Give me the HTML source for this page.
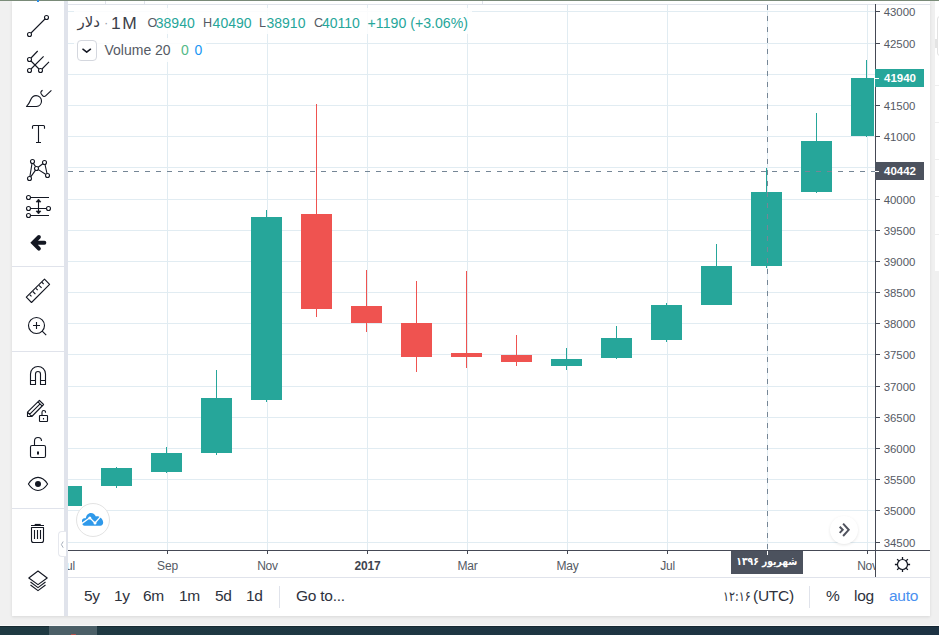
<!DOCTYPE html>
<html lang="en"><head><meta charset="utf-8"><title>Chart</title>
<style>
html,body{margin:0;padding:0}
body{width:939px;height:635px;overflow:hidden;background:#f0f0f0;position:relative;font-family:"Liberation Sans","DejaVu Sans",sans-serif;color:#555a64}
div{position:absolute;box-sizing:border-box}
.topstripe{left:0;top:0;width:939px;height:1px;background:#7b8d7a}
.panel{left:12px;top:1px;width:918px;height:615px;background:#fff;box-shadow:0 1px 3px rgba(0,0,0,.10)}
.tbsep{left:64px;top:1px;width:4px;height:615px;background:#e0e3eb}
.hsep{left:12px;width:52px;height:1px;background:#e0e3eb}
.plot{position:absolute;left:68px;top:4px}
.topline{left:68px;top:4px;width:862px;height:1px;background:#e0e3eb}
.yaxis{left:875px;top:4px;width:1px;height:574px;background:#454955}
.xaxis{left:68px;top:550px;width:862px;height:1px;background:#454955}
.tick{left:876px;width:4px;height:1px;background:#454955}
.plab{left:883.7px;font-size:11.4px;line-height:14px;height:14px;white-space:nowrap;color:#555a64}
.ttick{top:551px;width:1px;height:3px;background:#454955}
.tlab{top:558px;width:61px;text-align:center;font-size:12px;letter-spacing:-.2px;line-height:16px;color:#555a64;white-space:nowrap}
.tlab.b{font-weight:bold;color:#3f444e}
.taxclip{left:68px;top:551px;width:807px;height:26px;overflow:hidden}
.botsep{left:68px;top:577px;width:862px;height:1px;background:#e0e3eb}
.pbox{left:875px;width:49px;height:18px;color:#fff;font-weight:bold;font-size:11.5px;line-height:18px;padding-left:9px}
.pbox i{position:absolute;left:0;top:9px;width:4px;height:1px;background:#fff}
.bt{top:586px;height:20px;line-height:20px;font-size:15.5px;letter-spacing:-.25px;color:#2e323d;white-space:nowrap}
.vsep{top:586px;width:1px;height:22px;background:#e0e3eb}
.lg{top:13px;height:20px;line-height:20px;white-space:nowrap;font-size:14px;color:#555a64}
.lg.s{font-size:12.6px;top:13.2px}
.lg.v{color:#26a69a}
</style></head><body>
<div class="topstripe"></div>
<div class="panel"></div>
<div class="tbsep"></div>
<div class="hsep" style="top:266px"></div><div class="hsep" style="top:351px"></div><div class="hsep" style="top:508px"></div>
<svg class="plot" width="807" height="546" viewBox="68 4 807 546" shape-rendering="crispEdges">
<rect x="68" y="11" width="807" height="1" fill="#e1ecf2"/>
<rect x="68" y="43" width="807" height="1" fill="#e1ecf2"/>
<rect x="68" y="74" width="807" height="1" fill="#e1ecf2"/>
<rect x="68" y="105" width="807" height="1" fill="#e1ecf2"/>
<rect x="68" y="136" width="807" height="1" fill="#e1ecf2"/>
<rect x="68" y="167" width="807" height="1" fill="#e1ecf2"/>
<rect x="68" y="199" width="807" height="1" fill="#e1ecf2"/>
<rect x="68" y="230" width="807" height="1" fill="#e1ecf2"/>
<rect x="68" y="261" width="807" height="1" fill="#e1ecf2"/>
<rect x="68" y="292" width="807" height="1" fill="#e1ecf2"/>
<rect x="68" y="323" width="807" height="1" fill="#e1ecf2"/>
<rect x="68" y="354" width="807" height="1" fill="#e1ecf2"/>
<rect x="68" y="386" width="807" height="1" fill="#e1ecf2"/>
<rect x="68" y="417" width="807" height="1" fill="#e1ecf2"/>
<rect x="68" y="448" width="807" height="1" fill="#e1ecf2"/>
<rect x="68" y="479" width="807" height="1" fill="#e1ecf2"/>
<rect x="68" y="510" width="807" height="1" fill="#e1ecf2"/>
<rect x="68" y="542" width="807" height="1" fill="#e1ecf2"/>
<rect x="167" y="4" width="1" height="546" fill="#e1ecf2"/>
<rect x="267" y="4" width="1" height="546" fill="#e1ecf2"/>
<rect x="367" y="4" width="1" height="546" fill="#e1ecf2"/>
<rect x="467" y="4" width="1" height="546" fill="#e1ecf2"/>
<rect x="567" y="4" width="1" height="546" fill="#e1ecf2"/>
<rect x="667" y="4" width="1" height="546" fill="#e1ecf2"/>
<rect x="767" y="4" width="1" height="546" fill="#e1ecf2"/>
<rect x="867" y="4" width="1" height="546" fill="#e1ecf2"/>
<rect x="68" y="486" width="14" height="20" fill="#26a69a"/>
<rect x="116" y="467" width="1" height="21" fill="#26a69a"/>
<rect x="101" y="468" width="31" height="18" fill="#26a69a"/>
<rect x="166" y="447" width="1" height="26" fill="#26a69a"/>
<rect x="151" y="453" width="31" height="19" fill="#26a69a"/>
<rect x="216" y="370" width="1" height="85" fill="#26a69a"/>
<rect x="201" y="398" width="31" height="55" fill="#26a69a"/>
<rect x="266" y="210" width="1" height="192" fill="#26a69a"/>
<rect x="251" y="217" width="31" height="183" fill="#26a69a"/>
<rect x="316" y="104" width="1" height="213" fill="#ef5350"/>
<rect x="301" y="214" width="31" height="95" fill="#ef5350"/>
<rect x="366" y="270" width="1" height="62" fill="#ef5350"/>
<rect x="351" y="306" width="31" height="17" fill="#ef5350"/>
<rect x="416" y="281" width="1" height="91" fill="#ef5350"/>
<rect x="401" y="323" width="31" height="34" fill="#ef5350"/>
<rect x="466" y="271" width="1" height="97" fill="#ef5350"/>
<rect x="451" y="353" width="31" height="4" fill="#ef5350"/>
<rect x="516" y="335" width="1" height="31" fill="#ef5350"/>
<rect x="501" y="355" width="31" height="7" fill="#ef5350"/>
<rect x="566" y="348" width="1" height="22" fill="#26a69a"/>
<rect x="551" y="359" width="31" height="7" fill="#26a69a"/>
<rect x="616" y="326" width="1" height="33" fill="#26a69a"/>
<rect x="601" y="338" width="31" height="20" fill="#26a69a"/>
<rect x="666" y="303" width="1" height="39" fill="#26a69a"/>
<rect x="651" y="305" width="31" height="35" fill="#26a69a"/>
<rect x="716" y="244" width="1" height="61" fill="#26a69a"/>
<rect x="701" y="266" width="31" height="39" fill="#26a69a"/>
<rect x="766" y="168" width="1" height="100" fill="#26a69a"/>
<rect x="751" y="192" width="31" height="74" fill="#26a69a"/>
<rect x="816" y="113" width="1" height="80" fill="#26a69a"/>
<rect x="801" y="141" width="31" height="51" fill="#26a69a"/>
<rect x="866" y="60" width="1" height="77" fill="#26a69a"/>
<rect x="851" y="78" width="23" height="58" fill="#26a69a"/>
<line x1="68" y1="171.5" x2="875" y2="171.5" stroke="#758696" stroke-width="1" stroke-dasharray="5 6"/>
<line x1="767.5" y1="5" x2="767.5" y2="550" stroke="#758696" stroke-width="1" stroke-dasharray="5 6"/>
</svg>
<div class="topline"></div><div style="left:105px;top:1px;width:1px;height:3px;background:#e0e3eb"></div><div style="left:144px;top:1px;width:1px;height:3px;background:#e0e3eb"></div><div style="left:482px;top:1px;width:1px;height:3px;background:#e0e3eb"></div><div style="left:37px;top:0;width:2px;height:2px;background:#2f8fe8"></div>
<div class="xaxis"></div><div class="yaxis"></div>
<div class="tick" style="top:11px"></div><div class="plab" style="top:5px">43000</div>
<div class="tick" style="top:43px"></div><div class="plab" style="top:37px">42500</div>
<div class="tick" style="top:74px"></div><div class="plab" style="top:68px">42000</div>
<div class="tick" style="top:105px"></div><div class="plab" style="top:99px">41500</div>
<div class="tick" style="top:136px"></div><div class="plab" style="top:130px">41000</div>
<div class="tick" style="top:167px"></div><div class="plab" style="top:161px">40500</div>
<div class="tick" style="top:199px"></div><div class="plab" style="top:193px">40000</div>
<div class="tick" style="top:230px"></div><div class="plab" style="top:224px">39500</div>
<div class="tick" style="top:261px"></div><div class="plab" style="top:255px">39000</div>
<div class="tick" style="top:292px"></div><div class="plab" style="top:286px">38500</div>
<div class="tick" style="top:323px"></div><div class="plab" style="top:317px">38000</div>
<div class="tick" style="top:354px"></div><div class="plab" style="top:348px">37500</div>
<div class="tick" style="top:386px"></div><div class="plab" style="top:380px">37000</div>
<div class="tick" style="top:417px"></div><div class="plab" style="top:411px">36500</div>
<div class="tick" style="top:448px"></div><div class="plab" style="top:442px">36000</div>
<div class="tick" style="top:479px"></div><div class="plab" style="top:473px">35500</div>
<div class="tick" style="top:510px"></div><div class="plab" style="top:504px">35000</div>
<div class="tick" style="top:542px"></div><div class="plab" style="top:536px">34500</div>
<div class="taxclip"><div style="left:-68px;top:-551px;width:939px;height:635px">
<div class="ttick" style="left:67px"></div><div class="tlab" style="left:37px">Jul</div>
<div class="ttick" style="left:167px"></div><div class="tlab" style="left:137px">Sep</div>
<div class="ttick" style="left:267px"></div><div class="tlab" style="left:237px">Nov</div>
<div class="ttick" style="left:367px"></div><div class="tlab b" style="left:337px">2017</div>
<div class="ttick" style="left:467px"></div><div class="tlab" style="left:437px">Mar</div>
<div class="ttick" style="left:567px"></div><div class="tlab" style="left:537px">May</div>
<div class="ttick" style="left:667px"></div><div class="tlab" style="left:637px">Jul</div>
<div class="ttick" style="left:867px"></div><div class="tlab" style="left:837px">Nov</div>
</div></div>
<div class="botsep"></div>

<!-- legend -->
<div style="left:74px;top:8px;width:398px;height:26px;background:rgba(255,255,255,.85)"></div>
<div class="lg" style="left:77.5px;font-size:15px;color:#3c4049;top:12px" dir="rtl">دلار</div>
<div class="lg" style="left:104px;color:#9aa0aa;font-size:13px">·</div>
<div class="lg" style="left:111px;font-size:17.4px;letter-spacing:1.5px;color:#3c4049;top:12.5px">1M</div>
<div class="lg s" style="left:147.5px">O</div><div class="lg v" style="left:155.8px">38940</div>
<div class="lg s" style="left:203px">H</div><div class="lg v" style="left:212.6px">40490</div>
<div class="lg s" style="left:259px">L</div><div class="lg v" style="left:266.5px">38910</div>
<div class="lg s" style="left:314px">C</div><div class="lg v" style="left:322px">40110</div>
<div class="lg v" style="left:367.6px;font-size:14.15px">+1190 (+3.06%)</div>
<div style="left:74px;top:38px;width:132px;height:24px;background:rgba(255,255,255,.85)"></div>
<div style="left:76.5px;top:40px;width:20.5px;height:21px;border:1px solid #d4d7de;border-radius:4px;background:#fff"></div>
<svg style="position:absolute;left:77px;top:40px" width="19" height="20" viewBox="0 0 19 20"><path d="M5.9 9.2 L9.7 12.2 L13.5 9.2" fill="none" stroke="#131722" stroke-width="1.5" stroke-linecap="round" stroke-linejoin="round"/></svg>
<div class="lg" style="left:104.5px;top:40px;font-size:14px;color:#555a64">Volume 20</div>
<div class="lg" style="left:181px;top:40px;font-size:14px;color:#53b987">0</div>
<div class="lg" style="left:194.5px;top:40px;font-size:14px;color:#2196f3">0</div>

<!-- price boxes -->
<div class="pbox" style="top:69px;background:#26a69a"><i></i>41940</div>
<div class="pbox" style="top:162px;background:#4c525e"><i></i>40442</div>
<!-- time box -->
<div style="left:731px;top:551px;width:72px;height:23px;background:#4c525e;color:#fff;font:bold 11px/21px 'DejaVu Sans Condensed','DejaVu Sans',sans-serif;text-align:center;white-space:nowrap" dir="rtl"><span style="display:inline-block;transform:scaleX(.93)">شهریور ۱۳۹۶</span></div>
<div style="left:767px;top:551px;width:1px;height:4px;background:#fff"></div>

<!-- bottom toolbar -->
<div class="bt" style="left:84px">5y</div><div class="bt" style="left:114px">1y</div><div class="bt" style="left:143px">6m</div><div class="bt" style="left:179px">1m</div><div class="bt" style="left:215px">5d</div><div class="bt" style="left:246px">1d</div>
<div class="vsep" style="left:279px"></div>
<div class="bt" style="left:296px">Go to...</div>
<div class="bt" style="left:722.5px;width:28px;overflow:visible"><span style="display:inline-block;transform:scaleX(.92);transform-origin:0 50%;font:13.5px/20px 'DejaVu Sans Condensed','DejaVu Sans',sans-serif">۱۲:۱۶</span></div><div class="bt" style="left:753px">(UTC)</div>
<div class="vsep" style="left:809px"></div>
<div class="bt" style="left:826px">%</div><div class="bt" style="left:854px">log</div><div class="bt" style="left:889px;color:#4a90f0">auto</div>

<!-- toolbar icons (page coordinates) -->
<svg style="position:absolute;left:12px;top:1px" width="56" height="615" viewBox="12 1 56 615" fill="none" stroke="#131722" stroke-width="1.12" stroke-linecap="butt" stroke-linejoin="round">
<!-- trend line -->
<path d="M31 33 L45 19"/><circle cx="29.5" cy="34.5" r="2"/><circle cx="46.5" cy="17.5" r="2"/>
<!-- pitchfork -->
<path d="M31 58 L37.7 51 M31 69 L43.6 56.3 M42 69 L49 61.8 M31 61 L39 69"/>
<circle cx="29.5" cy="59.5" r="2"/><circle cx="29.5" cy="70.5" r="2"/><circle cx="40.5" cy="70.5" r="2"/>
<!-- brush -->
<path d="M26.5 106.5 L36.5 106.5 C39.5 106.3 41.5 103.8 41.5 101 C41.5 98 39 95.6 36 95.6 C33 95.6 31.6 97.4 30.6 100 C29.6 102.6 28.2 104.6 26.5 106.5 Z"/>
<path d="M42.6 90.4 C40.9 91 40.3 92.7 41.3 94 L42.6 95.7 C43.4 96.7 44.7 96.8 45.6 95.9 L51.4 90.3"/>
<!-- text -->
<path d="M32.5 128.7 V126.5 Q32.5 125.5 33.5 125.5 H43.5 Q44.5 125.5 44.5 126.5 V128.7 M38.5 125.5 V142.5 M36 142.5 H41"/>
<!-- pattern -->
<path d="M33.3 163.4 L35.6 166.6 M32 163.5 L29.9 176.5 M30.7 176.8 L35.4 170.3 M38.2 167.2 L42.8 163.7 M38.3 169.6 L45.6 174.3 M45 164.5 L47 173.5"/>
<circle cx="32.5" cy="161.5" r="2"/><circle cx="36.5" cy="168.5" r="2"/><circle cx="44.5" cy="162.5" r="2"/><circle cx="47.5" cy="175.5" r="2"/><circle cx="29.5" cy="178.5" r="2"/>
<!-- measure -->
<path d="M30.5 197.5 H49 M30.5 208.5 H46.5 M30.5 215.5 H49 M38.5 201 V212"/>
<circle cx="28.5" cy="197.5" r="2"/><circle cx="28.5" cy="208.5" r="2"/><circle cx="48.5" cy="208.5" r="2"/><circle cx="28.5" cy="215.5" r="2"/>
<path d="M36 202 L38.5 199 L41 202 Z M36 211 L38.5 214 L41 211 Z" fill="#131722" stroke-width=".6"/>
<!-- back arrow -->
<path d="M44.4 242.8 H34 M38.9 237 L33.1 242.8 L38.9 248.6" stroke-width="3.9" stroke-linecap="round" stroke-linejoin="miter"/>
<!-- ruler -->
<path d="M44.5 279.2 L49.6 284.3 L31.5 302.5 L26.3 297.2 Z"/>
<path d="M29.7 294.6 L31.5 296.4 M32.8 291.5 L35.4 294.1 M35.9 288.4 L37.7 290.2 M39 285.3 L41.6 287.9 M41.8 282.2 L43.6 284"/>
<!-- zoom -->
<circle cx="36.5" cy="325.5" r="8"/><path d="M33 325.5 H40 M36.5 322 V329 M42.2 331.2 L46.2 335.2"/>
<!-- magnet -->
<path d="M30.5 384.5 V374 A7.5 7.5 0 0 1 45.5 374 V384.5 H40.5 V374 A2.5 2.5 0 0 0 35.5 374 V384.5 Z M30.5 380.5 H35.5 M40.5 380.5 H45.5"/>
<!-- pencil + lock -->
<path d="M27.5 416.5 V412.2 L39.4 400.3 L43.6 404.5 L31.8 416.5 Z M27.5 412.2 L31.8 416.5 M29.6 414.4 L40.1 403.9 M38 401.8 L42 405.8"/>
<rect x="39.5" y="415.5" width="8" height="6" rx="0.5"/><path d="M42 415.5 V412.2 A1.75 1.75 0 0 1 45.5 412.2 V412.8 M43.5 418 V419.6"/>
<!-- lock -->
<rect x="30.5" y="445.5" width="15" height="12" rx="1.5"/><path d="M34.5 445.5 V441 A3.5 3.5 0 0 1 41.5 441"/><path d="M38 451.4 V454.6" stroke-width="2"/>
<!-- eye -->
<path d="M28.4 484 C31 480 34 477.4 38 477.4 C42 477.4 45 480 47.6 484 C45 488 42 490.5 38 490.5 C34 490.5 31 488 28.4 484 Z"/><circle cx="38" cy="484" r="3" fill="#131722" stroke="none"/>
<!-- trash -->
<path d="M31 525.5 H44 M31.5 527.5 H43.5 V540.5 Q43.5 542.5 41.5 542.5 H33.5 Q31.5 542.5 31.5 540.5 Z M34.5 530 V539 M37.5 530 V539 M40.5 530 V539"/><path d="M34.7 524.6 H40.7" stroke-width="1.4"/>
<!-- layers -->
<path d="M38 571 L47.2 578 L38 584.6 L28.8 578 Z M30.5 582 L38 587.6 L45.5 582 M30.5 585 L38 590.6 L45.5 585"/>
</svg>
<!-- collapse tab -->
<div style="left:58px;top:531px;width:8px;height:26px;background:#fff;border-radius:4px 0 0 4px;border:1px solid #e6e8ee;border-right:none"></div>
<svg style="position:absolute;left:58px;top:531px" width="8" height="26" viewBox="0 0 8 26"><path d="M5.2 10.5 L3.4 13.6 L5.2 16.7" fill="none" stroke="#a8b0bd" stroke-width="1"/></svg>
<!-- logo circle -->
<div style="left:75.5px;top:503px;width:34px;height:34px;border-radius:17px;background:#fff;border:1px solid #e3e3e3"></div>
<svg style="position:absolute;left:75px;top:503px" width="36" height="34" viewBox="75 503 36 34"><path d="M84.6 525.8 C83 525.8 82 524.4 82 522.6 L82 520.6 C82 519.2 83 518.2 84.4 518.2 L85.8 518.2 C86.2 515.2 88.2 512.9 90.9 512.9 C93.3 512.9 95.1 514.4 95.9 516.5 C96.8 516.1 97.8 516.1 98.7 516.5 C101.4 517.6 103.2 520 103.2 522.5 C103.2 524.4 102 525.8 100.3 525.8 Z" fill="#2f99ea"/><path d="M81.6 523.6 L89.8 517.8 L95 523 L100.6 516.6" fill="none" stroke="#fff" stroke-width="1.3"/><circle cx="89.8" cy="517.9" r="1.5" fill="#fff"/><circle cx="95" cy="522.9" r="1.5" fill="#fff"/></svg>
<!-- scroll-to-latest button -->
<div style="left:830px;top:516px;width:28px;height:28px;border-radius:14px;background:#fff;box-shadow:0 1px 3px rgba(0,0,0,.10)"></div>
<svg style="position:absolute;left:830px;top:516px" width="28" height="28" viewBox="830 516 28 28"><path d="M839.7 526.8 L842.7 529.85 L839.7 532.9 M843.1 523.7 L848.7 529.85 L843.1 536" fill="none" stroke="#50535e" stroke-width="2"/></svg>
<!-- gear -->
<svg style="position:absolute;left:890px;top:552px" width="25" height="25" viewBox="890 552 25 25"><circle cx="902.5" cy="564.5" r="5" fill="none" stroke="#131722" stroke-width="1.2"/><path d="M907.80 564.50 L910.10 564.50 M906.25 568.25 L907.87 569.87 M902.50 569.80 L902.50 572.10 M898.75 568.25 L897.13 569.87 M897.20 564.50 L894.90 564.50 M898.75 560.75 L897.13 559.13 M902.50 559.20 L902.50 556.90 M906.25 560.75 L907.87 559.13" stroke="#131722" stroke-width="1.3" fill="none"/></svg>


<!-- right side bits -->
<div style="left:935px;top:1px;width:4px;height:270px;background:#fff"></div>
<div style="left:937px;top:16px;width:6px;height:40px;border:1px solid #e2e2e2;border-radius:3px;background:#fff"></div>
<div style="left:935px;top:39px;width:3px;height:9px;background:#e4e4e4"></div>
<div style="left:935px;top:85px;width:4px;height:1px;background:#eee"></div><div style="left:935px;top:122px;width:4px;height:1px;background:#eee"></div><div style="left:935px;top:159px;width:4px;height:1px;background:#eee"></div><div style="left:935px;top:196px;width:4px;height:1px;background:#eee"></div><div style="left:935px;top:234px;width:4px;height:1px;background:#eee"></div>
<!-- taskbar -->
<div style="left:0;top:626px;width:939px;height:9px;background:linear-gradient(90deg,#1f3a42,#1d3243)"></div>
<div style="left:0;top:626px;width:939px;height:1px;background:rgba(0,0,0,.25)"></div><div style="left:0;top:625px;width:939px;height:1px;background:#fafafa"></div>
<div style="left:49px;top:626px;width:48px;height:9px;background:#4b5f67"></div><div style="left:71px;top:634px;width:5px;height:1px;background:#b5524c"></div>
</body></html>
